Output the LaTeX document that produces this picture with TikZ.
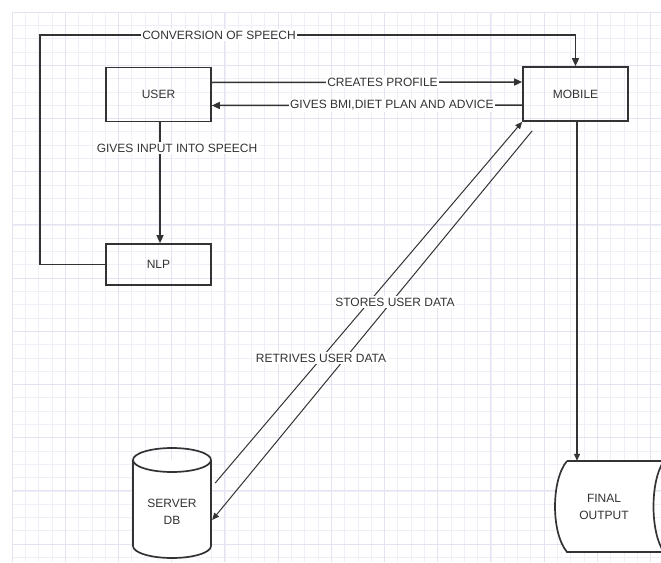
\documentclass[tikz,border=0pt]{standalone}
\usepackage{fontspec}
\setmainfont{Liberation Sans}
\usetikzlibrary{arrows.meta,calc}
\definecolor{ink}{HTML}{333333}
\definecolor{gridminor}{HTML}{EFEFF8}
\definecolor{gridmajor}{HTML}{E3E3F1}
\begin{document}
\begin{tikzpicture}[x=1pt,y=-1pt,
  txt/.style={font=\fontsize{12}{17}\selectfont, text=ink, inner sep=1.5pt},
  lbl/.style={txt, fill=white},
  box/.style={txt, draw=ink, line width=1.7pt, minimum width=105pt, inner sep=0pt},
  conn/.style={draw=ink, line width=1.5pt},
  thin/.style={draw=ink, line width=1pt},
  arr/.style={-{Triangle[length=8pt,width=7pt]}},
  arrs/.style={-{Triangle[length=7pt,width=6pt]}}]
\useasboundingbox (0,0) rectangle (661,562);
\clip (0,0) rectangle (661,562);
% grid
\foreach \i in {0,...,48} {
  \draw[gridminor, line width=0.6pt] (12+\i*13.3,12) -- (12+\i*13.3,562);
}
\foreach \i in {0,...,41} {
  \draw[gridminor, line width=0.6pt] (12,12+\i*13.3) -- (661,12+\i*13.3);
}
\foreach \i in {0,4,...,48} {
  \draw[gridmajor, line width=0.7pt] (12+\i*13.3,12) -- (12+\i*13.3,562);
}
\foreach \i in {0,4,...,41} {
  \draw[gridmajor, line width=0.7pt] (12,12+\i*13.3) -- (661,12+\i*13.3);
}

% cylinder (server db)
\draw[ink, line width=1.7pt, fill=white] (133,460) -- (133,546) arc[start angle=180, end angle=360, x radius=39, y radius=-12] -- (211,460);
\draw[ink, line width=1.7pt] (172,460) ellipse[x radius=39, y radius=12];

% final output (stored data shape)
\draw[ink, line width=1.7pt, fill=white] (567,461) -- (664,461)
  .. controls (650,480) and (650,533) .. (664,552) -- (567,552)
  .. controls (551,533) and (551,480) .. (567,461);

% nodes
\node[box, minimum height=54pt] (user) at (158.5,94.5) {USER};
\node[box, minimum height=41pt] (nlp) at (158.5,264.5) {NLP};
\node[box, minimum height=54pt] (mobile) at (575.5,94) {MOBILE};
\node[txt, align=center, minimum width=78pt, minimum height=90pt] (db) at (172,512) {SERVER\\DB};
\node[txt, align=center, minimum width=90pt, minimum height=91pt] (fo) at (604,506.5) {FINAL\\OUTPUT};
\coordinate (tl) at (40,35);

% connectors
\draw[conn, arr] (nlp.west) -| (tl) -| (mobile.north);
\node[lbl] at (219,35) {CONVERSION OF SPEECH};

\draw[conn, arr] ([yshift=12pt]user.east) -- ([yshift=12pt]mobile.west)
  node[lbl, pos=0.55] {CREATES PROFILE};
\draw[conn, arr] ([yshift=-11pt]mobile.west) -- ([yshift=-11pt]user.east)
  node[lbl, pos=0.42] {GIVES BMI,DIET PLAN AND ADVICE};

\draw[conn, arr, line width=1.3pt] (user.south -| 160,0) -- (nlp.north -| 160,0);
\node[lbl] at (177,148) {GIVES INPUT INTO SPEECH};

\draw[thin, arrs] ($(db.east)+(4,-29)$) -- (mobile.south west);
\draw[thin, arrs] ($(mobile.south west)+(10,9)$) -- ($(db.east)+(1,8)$);
\node[lbl] at (395,302) {STORES USER DATA};
\node[lbl] at (321,358) {RETRIVES USER DATA};

\draw[conn, arrs, line width=1.2pt] (mobile.south -| 577,0) -- (fo.north -| 577,0);
\end{tikzpicture}
\end{document}
